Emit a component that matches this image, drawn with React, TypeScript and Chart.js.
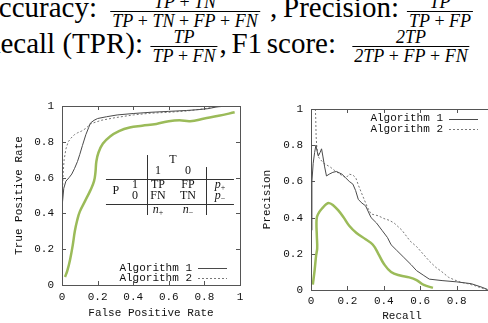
import React, { useEffect, useRef } from "react";
import { Chart, registerables } from "chart.js";
Chart.register(...registerables);

// ---------- data ----------
const tickValues = [0, 0.2, 0.4, 0.6, 0.8, 1];
const prXTickValues = [0, 0.2, 0.4, 0.6, 0.8, 1];

const legendLabels = ["Algorithm 1", "Algorithm 2"];
const rocTitles = ["False Positive Rate", "True Positive Rate"];
const prTitles = ["Recall", "Precision"];

// ROC curves
const rocAlg1X = [0, 0, 0.003, 0.01, 0.022, 0.04, 0.055, 0.07, 0.087, 0.1, 0.115, 0.134, 0.15, 0.16, 0.18, 0.2, 0.25, 0.31, 0.4, 0.5, 0.6, 0.7, 0.77, 0.82, 0.87, 0.93, 1];
const rocAlg1Y = [0, 0.3, 0.45, 0.54, 0.58, 0.6, 0.62, 0.65, 0.69, 0.73, 0.78, 0.84, 0.88, 0.905, 0.92, 0.93, 0.94, 0.95, 0.958, 0.965, 0.97, 0.975, 0.98, 0.985, 0.995, 1, 1];
const rocAlg2X = [0, 0, 0.002, 0.006, 0.012, 0.022, 0.035, 0.05, 0.07, 0.087, 0.11, 0.134, 0.15, 0.16, 0.19, 0.22, 0.3, 0.4, 0.5, 0.6, 0.7, 0.8, 0.86, 0.9, 1];
const rocAlg2Y = [0, 0.35, 0.5, 0.62, 0.7, 0.76, 0.8, 0.82, 0.84, 0.85, 0.86, 0.875, 0.89, 0.9, 0.91, 0.92, 0.935, 0.95, 0.96, 0.965, 0.972, 0.985, 0.995, 1, 1];
const rocGreenX = [0.017, 0.03, 0.045, 0.06, 0.072, 0.085, 0.1, 0.13, 0.16, 0.18, 0.188, 0.193, 0.205, 0.23, 0.27, 0.32, 0.38, 0.45, 0.53, 0.6, 0.66, 0.72, 0.8, 0.88, 0.97];
const rocGreenY = [0.045, 0.08, 0.14, 0.22, 0.3, 0.36, 0.41, 0.47, 0.53, 0.58, 0.63, 0.69, 0.74, 0.79, 0.83, 0.86, 0.88, 0.89, 0.9, 0.915, 0.92, 0.915, 0.93, 0.945, 0.965];

// PR curves
const prAlg1X = [0, 0.005, 0.012, 0.02, 0.027, 0.033, 0.04, 0.05, 0.058, 0.065, 0.075, 0.085, 0.1, 0.12, 0.14, 0.17, 0.19, 0.21, 0.23, 0.245, 0.26, 0.28, 0.3, 0.33, 0.36, 0.39, 0.42, 0.44, 0.47, 0.51, 0.55, 0.58, 0.62, 0.65, 0.72, 0.8, 0.88, 0.94, 0.97];
const prAlg1Y = [0.33, 0.6, 0.7, 0.76, 0.8, 0.77, 0.74, 0.76, 0.78, 0.74, 0.68, 0.63, 0.64, 0.65, 0.655, 0.64, 0.62, 0.6, 0.585, 0.55, 0.5, 0.48, 0.465, 0.4, 0.37, 0.33, 0.29, 0.25, 0.22, 0.18, 0.14, 0.107, 0.08, 0.06, 0.052, 0.045, 0.035, 0.015, 0.003];
const prAlg2X = [0.024, 0.026, 0.028, 0.032, 0.038, 0.044, 0.07, 0.105, 0.13, 0.158, 0.193, 0.21, 0.23, 0.246, 0.26, 0.28, 0.31, 0.33, 0.37, 0.4, 0.43, 0.457, 0.5, 0.545, 0.58, 0.615, 0.65, 0.686, 0.72, 0.756, 0.79, 0.826, 0.86, 0.9, 0.94, 0.97];
const prAlg2Y = [1.0, 0.95, 0.85, 0.79, 0.75, 0.73, 0.7, 0.68, 0.66, 0.64, 0.62, 0.64, 0.635, 0.62, 0.58, 0.53, 0.457, 0.42, 0.41, 0.395, 0.385, 0.37, 0.33, 0.27, 0.24, 0.2, 0.16, 0.125, 0.1, 0.07, 0.055, 0.042, 0.035, 0.024, 0.01, 0.0];
const prGreenX = [0.01, 0.02, 0.028, 0.034, 0.032, 0.03, 0.033, 0.045, 0.065, 0.085, 0.1, 0.12, 0.15, 0.18, 0.21, 0.25, 0.3, 0.34, 0.37, 0.4, 0.44, 0.49, 0.54, 0.58, 0.62, 0.67];
const prGreenY = [0.03, 0.11, 0.19, 0.23, 0.3, 0.37, 0.405, 0.43, 0.455, 0.475, 0.48, 0.47, 0.44, 0.4, 0.355, 0.315, 0.28, 0.25, 0.2, 0.145, 0.1, 0.08, 0.07, 0.055, 0.028, 0.012];

// confusion table text
const tableColHeader = "T";
const tableColLabels = ["1", "0"];
const tableRowHeader = "P";
const tableRowLabels = ["1", "0"];
const tableCells = [["TP", "FP"], ["FN", "TN"]];
const tableRowTotals = [["p", "+"], ["p", "\u2212"]];
const tableColTotals = [["n", "+"], ["n", "\u2212"]];

// formulas
const formulaLabels = ["Accuracy:", ", Precision:", "Recall (TPR):", ", F1 score:"];
const formulaNums = ["TP+TN", "TP", "TP", "2TP"];
const formulaDens = ["TP+TN+FP+FN", "TP+FP", "TP+FN", "2TP+FP+FN"];

// ---------- styles ----------
const MONO = "'Liberation Mono', 'DejaVu Sans Mono', monospace";
const SERIF = "'Liberation Serif', serif";
const TEXT = "#111";
const FRAME = "#555";
const GREEN = "#9bbb59";

const pts = (xs: number[], ys: number[]) => xs.map((x, i) => ({ x, y: ys[i] }));

const gnuPlugin = {
  id: "gnu",
  afterDatasetsDraw(chart: any, _args: any, opts: any) {
    const { ctx, chartArea: a, scales } = chart;
    const xs = scales.x, ys = scales.y;
    ctx.save();
    // frame
    ctx.strokeStyle = FRAME;
    ctx.lineWidth = 1;
    ctx.strokeRect(Math.round(a.left) + 0.5, Math.round(a.top) + 0.5, Math.round(a.right - a.left), Math.round(a.bottom - a.top));
    // inward ticks (mirrored)
    const tl = 4;
    ctx.beginPath();
    for (const v of opts.xticks) {
      const px = Math.round(xs.getPixelForValue(v)) + 0.5;
      ctx.moveTo(px, a.bottom); ctx.lineTo(px, a.bottom - tl);
      ctx.moveTo(px, a.top); ctx.lineTo(px, a.top + tl);
    }
    for (const v of opts.yticks) {
      const py = Math.round(ys.getPixelForValue(v)) + 0.5;
      ctx.moveTo(a.left, py); ctx.lineTo(a.left + tl, py);
      ctx.moveTo(a.right, py); ctx.lineTo(a.right - tl, py);
    }
    ctx.stroke();

    // key
    const ds = chart.data.datasets.filter((d: any) => legendLabels.includes(d.label));
    ctx.font = `11px ${MONO}`;
    ctx.fillStyle = TEXT;
    ctx.textAlign = "right";
    ctx.textBaseline = "middle";
    const sampleRight = a.right - opts.keyRight;
    const sampleLeft = sampleRight - 29;
    ds.forEach((d: any, i: number) => {
      const y = opts.keyPos === "top" ? a.top + opts.keyOffset + i * 10.5 : a.bottom - opts.keyOffset - (ds.length - 1 - i) * 10.5;
      ctx.fillText(d.label, sampleLeft - 6, y);
      ctx.save();
      ctx.strokeStyle = d.borderColor;
      ctx.lineWidth = d.borderWidth;
      ctx.setLineDash(d.borderDash || []);
      ctx.beginPath();
      ctx.moveTo(sampleLeft, Math.round(y) + 0.5);
      ctx.lineTo(sampleRight, Math.round(y) + 0.5);
      ctx.stroke();
      ctx.restore();
    });

    // table
    if (opts.table) {
      const t = opts.table;
      const X = (v: number) => xs.getPixelForValue(v);
      const Y = (v: number) => ys.getPixelForValue(v);
      ctx.strokeStyle = "#333";
      ctx.lineWidth = 1;
      ctx.beginPath();
      ctx.moveTo(Math.round(X(t.v1)) + 0.5, Y(t.v1Top)); ctx.lineTo(Math.round(X(t.v1)) + 0.5, Y(t.vBottom));
      ctx.moveTo(Math.round(X(t.v2)) + 0.5, Y(t.v2Top)); ctx.lineTo(Math.round(X(t.v2)) + 0.5, Y(t.vBottom));
      ctx.moveTo(X(t.hLeft), Math.round(Y(t.h1)) + 0.5); ctx.lineTo(X(t.hRight), Math.round(Y(t.h1)) + 0.5);
      ctx.moveTo(X(t.hLeft), Math.round(Y(t.h2)) + 0.5); ctx.lineTo(X(t.hRight), Math.round(Y(t.h2)) + 0.5);
      ctx.stroke();
      ctx.fillStyle = "#111";
      ctx.textAlign = "center";
      ctx.textBaseline = "middle";
      ctx.font = `12px ${SERIF}`;
      ctx.fillText(tableColHeader, X((t.c1 + t.c2) / 2), Y(t.rT));
      ctx.fillText(tableColLabels[0], X(t.c1), Y(t.rH));
      ctx.fillText(tableColLabels[1], X(t.c2), Y(t.rH));
      ctx.fillText(tableRowHeader, X(t.cP), Y((t.r1 + t.r2) / 2));
      ctx.fillText(tableRowLabels[0], X(t.cR), Y(t.r1));
      ctx.fillText(tableRowLabels[1], X(t.cR), Y(t.r2));
      ctx.fillText(tableCells[0][0], X(t.c1), Y(t.r1));
      ctx.fillText(tableCells[0][1], X(t.c2), Y(t.r1));
      ctx.fillText(tableCells[1][0], X(t.c1), Y(t.r2));
      ctx.fillText(tableCells[1][1], X(t.c2), Y(t.r2));
      const sub = (pair: string[], cx: number, cy: number) => {
        ctx.font = `italic 12px ${SERIF}`;
        const w1 = ctx.measureText(pair[0]).width;
        ctx.font = `8px ${SERIF}`;
        const w2 = ctx.measureText(pair[1]).width;
        const x0 = cx - (w1 + w2) / 2;
        ctx.textAlign = "left";
        ctx.font = `italic 12px ${SERIF}`;
        ctx.fillText(pair[0], x0, cy);
        ctx.font = `8px ${SERIF}`;
        ctx.fillText(pair[1], x0 + w1, cy + 3);
        ctx.textAlign = "center";
      };
      sub(tableRowTotals[0], X(t.cp), Y(t.r1));
      sub(tableRowTotals[1], X(t.cp), Y(t.r2));
      sub(tableColTotals[0], X(t.c1), Y(t.rn));
      sub(tableColTotals[1], X(t.c2), Y(t.rn));
    }
    ctx.restore();
  },
};

function makeScale(title: string, size: number, ticks: number[], tickPad: number, titlePad: any, horizontal: boolean) {
  return {
    type: "linear",
    min: 0,
    max: 1,
    afterBuildTicks: (s: any) => { s.ticks = ticks.map((v) => ({ value: v })); },
    afterFit: (s: any) => { if (horizontal) s.height = size; else s.width = size; },
    grid: { display: false, drawTicks: false },
    border: { display: false },
    ticks: { font: { family: MONO, size: 11 }, color: TEXT, padding: tickPad, maxRotation: 0, autoSkip: false, callback: (v: any) => String(v) },
    title: { display: true, text: title, font: { family: MONO, size: 11 }, color: TEXT, padding: titlePad },
  };
}

function datasets(a1x: number[], a1y: number[], a2x: number[], a2y: number[], gx: number[], gy: number[]) {
  return [
    { label: legendLabels[0], data: pts(a1x, a1y), showLine: true, borderColor: "#4a4a4a", borderWidth: 1, pointRadius: 0, tension: 0 },
    { label: legendLabels[1], data: pts(a2x, a2y), showLine: true, borderColor: "#777", borderWidth: 1, borderDash: [2, 2], pointRadius: 0, tension: 0 },
    { label: "Model", data: pts(gx, gy), showLine: true, borderColor: GREEN, borderWidth: 2.5, pointRadius: 0, tension: 0.4 },
  ];
}

function GnuChart(props: { w: number; h: number; left: number; top: number; config: any }) {
  const ref = useRef<HTMLCanvasElement>(null);
  useEffect(() => {
    const chart = new Chart(ref.current as HTMLCanvasElement, props.config);
    return () => chart.destroy();
  }, []);
  return (
    <canvas ref={ref} width={props.w} height={props.h}
      style={{ position: "absolute", left: props.left, top: props.top, width: props.w, height: props.h }} />
  );
}

const baseOpts = {
  responsive: false,
  animation: false,
  devicePixelRatio: 1,
  events: [],
};

const rocConfig = {
  type: "scatter",
  data: { datasets: datasets(rocAlg1X, rocAlg1Y, rocAlg2X, rocAlg2Y, rocGreenX, rocGreenY) },
  options: {
    ...baseOpts,
    layout: { padding: { left: 0, top: 16, right: 10, bottom: 0 } },
    scales: {
      x: makeScale(rocTitles[0], 38, tickValues, 5, { top: 0, bottom: 3.4 }, true),
      y: makeScale(rocTitles[1], 62, tickValues, 8, { top: 12.4, bottom: 0 }, false),
    },
    plugins: {
      legend: { display: false },
      tooltip: { enabled: false },
      gnu: {
        xticks: tickValues, yticks: tickValues, keyPos: "bottom", keyOffset: 6.7, keyRight: 13,
        table: {
          v1: 0.476, v2: 0.81, v1Top: 0.726, v2Top: 0.659, vBottom: 0.391,
          hLeft: 0.247, hRight: 0.966, h1: 0.592, h2: 0.455,
          c1: 0.539, c2: 0.708, cP: 0.303, cR: 0.41, cp: 0.888,
          rT: 0.698, rH: 0.637, r1: 0.559, r2: 0.497, rn: 0.419,
        },
      },
    },
  },
  plugins: [gnuPlugin],
};

const prConfig = {
  type: "scatter",
  data: { datasets: datasets(prAlg1X, prAlg1Y, prAlg2X, prAlg2Y, prGreenX, prGreenY) },
  options: {
    ...baseOpts,
    layout: { padding: { left: 0, top: 19, right: 11, bottom: 0 } },
    scales: {
      x: makeScale(prTitles[0], 33, prXTickValues, 4, { top: 0, bottom: 0 }, true),
      y: makeScale(prTitles[1], 67, tickValues, 8, { top: 16.1, bottom: 0 }, false),
    },
    plugins: {
      legend: { display: false },
      tooltip: { enabled: false },
      gnu: { xticks: prXTickValues, yticks: tickValues, keyPos: "top", keyOffset: 9.5, keyRight: 15 },
    },
  },
  plugins: [gnuPlugin],
};

function MathText({ s }: { s: string }) {
  const parts = s.split("+");
  return (
    <>
      {parts.map((p, i) => (
        <React.Fragment key={i}>
          {i > 0 && <span style={{ fontStyle: "normal", margin: "0 0.25em" }}>+</span>}
          {p}
        </React.Fragment>
      ))}
    </>
  );
}

const FF = 18;

function Frac({ num, den, cx, barY }: { num: string; den: string; cx: number; barY: number }) {
  return (
    <div style={{ position: "absolute", left: cx, top: barY - FF, transform: "translateX(-50%)", display: "flex", flexDirection: "column", alignItems: "stretch", textAlign: "center", font: `italic ${FF}px/${FF}px ${SERIF}`, whiteSpace: "nowrap", color: "#000" }}>
      <div style={{ height: FF }}><MathText s={num} /></div>
      <div style={{ height: 1, background: "#000" }} />
      <div style={{ height: FF, padding: "0 2px" }}><MathText s={den} /></div>
    </div>
  );
}

function Label({ text, right, baseline, ws = 0 }: { text: string; right: number; baseline: number; ws?: number }) {
  const fs = 29;
  return (
    <div style={{ position: "absolute", right: 488 - right, top: baseline - 0.8375 * fs, font: `${fs}px/${fs}px ${SERIF}`, wordSpacing: ws, whiteSpace: "nowrap", color: "#000" }}>{text}</div>
  );
}

export default function App() {
  return (
    <div style={{ position: "absolute", left: 0, top: 0, width: 488, height: 323, overflow: "hidden", background: "#fff" }}>
      <Label text={formulaLabels[0]} right={97} baseline={17} />
      <Frac num={formulaNums[0]} den={formulaDens[0]} cx={185} barY={11} />
      <Label text={formulaLabels[1]} right={399} baseline={17} ws={-1.5} />
      <Frac num={formulaNums[1]} den={formulaDens[1]} cx={440} barY={11} />
      <Label text={formulaLabels[2]} right={143} baseline={53} />
      <Frac num={formulaNums[2]} den={formulaDens[2]} cx={184} barY={46} />
      <Label text={formulaLabels[3]} right={336} baseline={53} ws={-2.5} />
      <Frac num={formulaNums[3]} den={formulaDens[3]} cx={411} barY={46} />
      <GnuChart w={250} h={233} left={0} top={90} config={rocConfig} />
      <GnuChart w={260} h={233} left={244} top={90} config={prConfig} />
    </div>
  );
}
